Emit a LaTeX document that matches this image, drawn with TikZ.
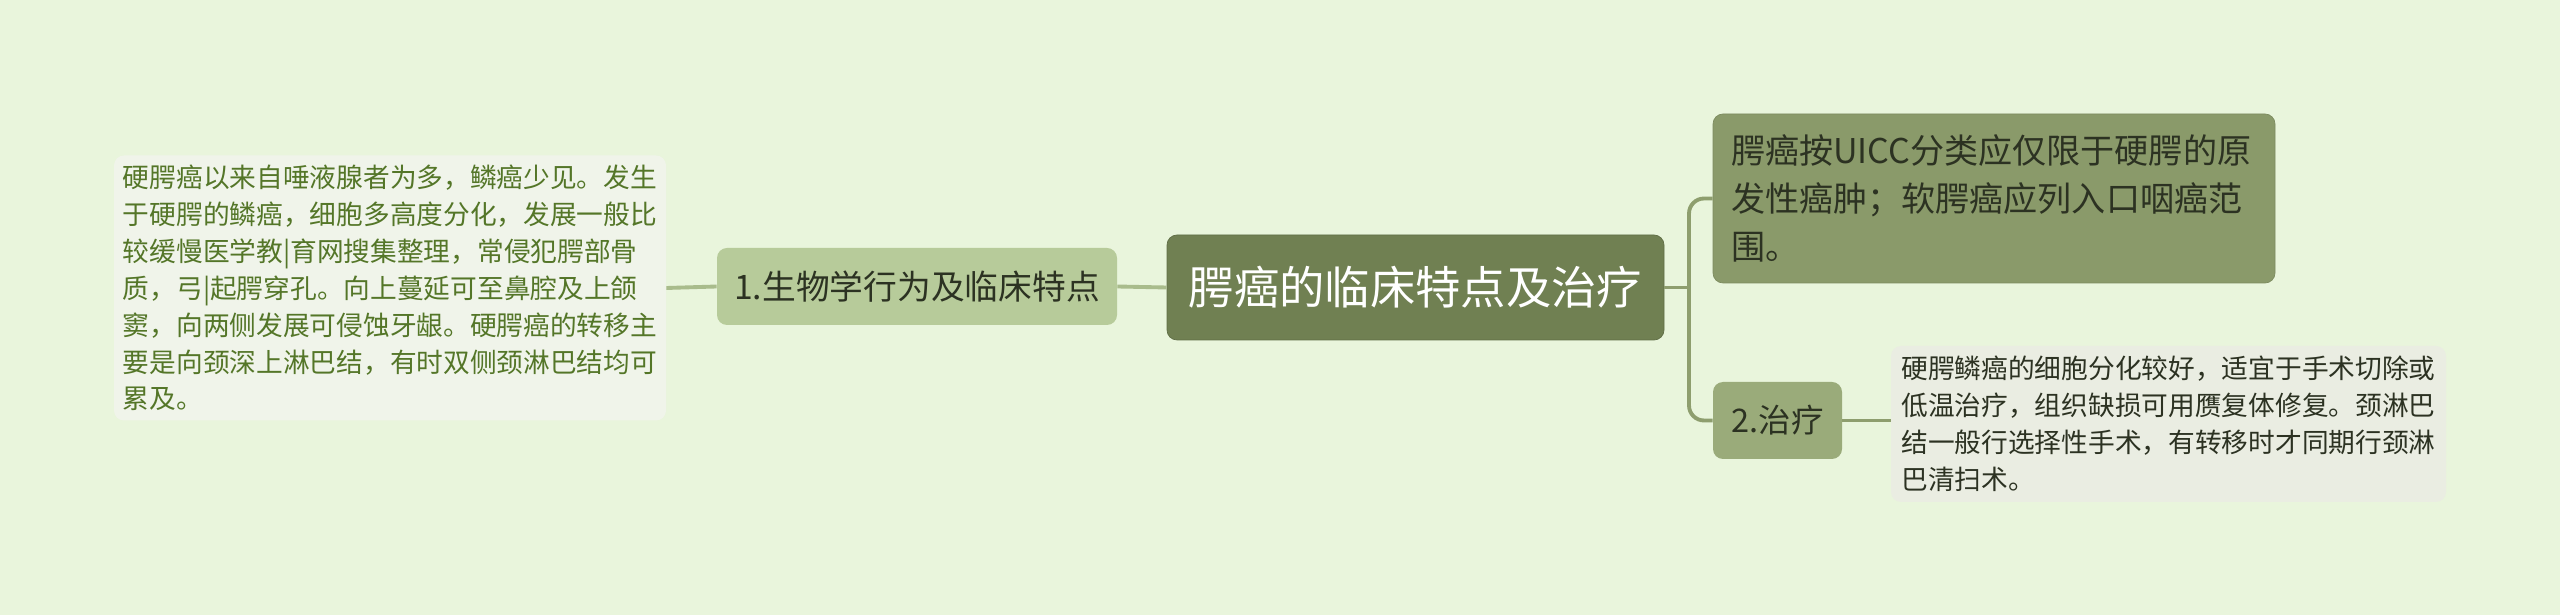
\documentclass[tikz,border=0pt]{standalone}
\usepackage{fontspec}
\newfontfamily\cjk{Noto Sans CJK SC}
\usepackage{tikz}
\usetikzlibrary{positioning}
\definecolor{bgc}{RGB}{233,245,220}
\definecolor{rootc}{RGB}{112,128,82}
\definecolor{leftc}{RGB}{183,203,154}
\definecolor{topc}{RGB}{138,154,106}
\definecolor{treatc}{RGB}{154,171,122}
\definecolor{notel}{RGB}{240,244,234}
\definecolor{noter}{RGB}{234,237,226}
\definecolor{greentxt}{RGB}{84,118,40}
\definecolor{darktxt}{RGB}{44,50,34}
\definecolor{linel}{RGB}{169,188,140}
\definecolor{liner}{RGB}{142,158,110}

\begin{document}
\begin{tikzpicture}[font=\cjk,
    box/.style={rounded corners=0.2cm, align=left, inner sep=0pt},
    note/.style={box, text=greentxt, font=\cjk\fontsize{15.2}{21}\selectfont},
    link/.style={line width=2.2pt}]
    \fill[bgc] (0,0) rectangle (51.2,12.3);
    \useasboundingbox (0,0) rectangle (51.2,12.3);
    \node[box, fill=rootc, draw=rootc!85!black, text=white, minimum width=9.94cm, minimum height=2.1cm,
      font=\cjk\fontsize{25.8}{30}\selectfont] (root) at (28.31,6.55) {腭癌的临床特点及治疗};
    \node[box, fill=leftc, text=darktxt, minimum width=8cm, minimum height=1.54cm,
      font=\cjk\fontsize{19.2}{24}\selectfont] (biology) at (18.34,6.57) {1.生物学行为及临床特点};
    \node[note, fill=notel, minimum width=11.04cm, minimum height=5.3cm] (biotext) at (7.8,6.54)
      {硬腭癌以来自唾液腺者为多，鳞癌少见。发生\\于硬腭的鳞癌，细胞多高度分化，发展一般比\\较缓慢医学教|育网搜集整理，常侵犯腭部骨\\质，弓|起腭穿孔。向上蔓延可至鼻腔及上颌\\窦，向两侧发展可侵蚀牙龈。硬腭癌的转移主\\要是向颈深上淋巴结，有时双侧颈淋巴结均可\\累及。};
    \node[box, fill=topc, draw=topc!90!black, text=darktxt, text width=10.52cm, inner xsep=0.36cm,
      minimum height=3.38cm, font=\cjk\fontsize{19.4}{27.2}\selectfont] (uicc) at (39.88,8.33)
      {腭癌按UICC分类应仅限于硬腭的原\\发性癌肿；软腭癌应列入口咽癌范\\围。};
    \node[box, fill=treatc, text=darktxt, minimum width=2.58cm, minimum height=1.54cm,
      font=\cjk\fontsize{18.5}{24}\selectfont] (treat) at (35.55,3.89) {2.治疗};
    \node[note, fill=noter, text=darktxt, minimum width=11.1cm, minimum height=3.12cm] (treattext) at (43.37,3.82)
      {硬腭鳞癌的细胞分化较好，适宜于手术切除或\\低温治疗，组织缺损可用赝复体修复。颈淋巴\\结一般行选择性手术，有转移时才同期行颈淋\\巴清扫术。};
    \coordinate (bus) at (33.78,6.55);
    \draw[link, linel] (root.west) -- (biology.east);
    \draw[link, linel] (biology.west) -- (biotext.east);
    \draw[link, liner] (root.east) -- (bus);
    \draw[link, liner, rounded corners=0.3cm] (uicc.west) -| (bus) |- (treat.west);
    \draw[link, liner] (treat.east) -- (treat.east -| treattext.west);
\end{tikzpicture}
\end{document}
